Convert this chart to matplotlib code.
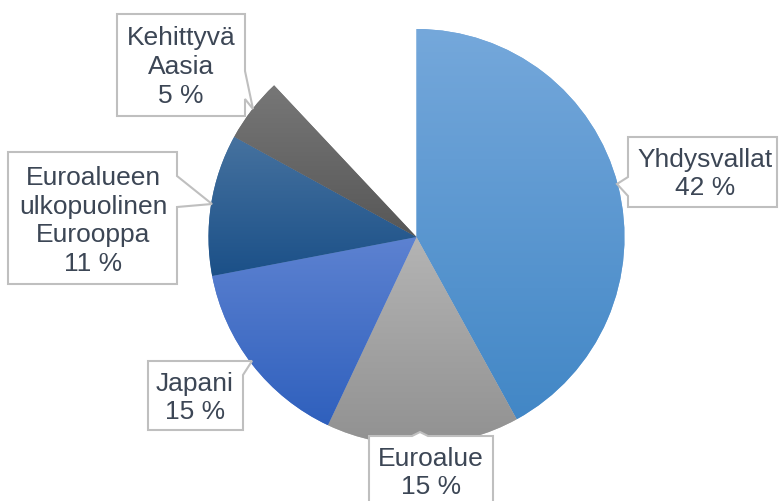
import numpy as np
import matplotlib
matplotlib.use("Agg")
import matplotlib.pyplot as plt
from matplotlib.colors import to_rgb
from matplotlib.patches import Polygon

# Osuudet (%), loput 12 % jää tyhjäksi
labels = ["Yhdysvallat", "Euroalue", "Japani",
          "Euroalueen\nulkopuolinen\nEurooppa", "Kehittyvä\nAasia"]
values = [42, 15, 15, 11, 5]
gap = 100 - sum(values)

# gradient colours (top, bottom) per slice
grad_top = ["#75a8db", "#b4b4b4", "#5d82d1", "#46729f", "#777777"]
grad_bot = ["#4287c6", "#919191", "#2f60bd", "#1b5088", "#575757"]

W, H = 779, 502
TEXT = "#3c4655"
EDGE = "#bfbfbf"

plt.rcParams["font.family"] = ["Liberation Sans", "DejaVu Sans"]

fig = plt.figure(figsize=(W / 100, H / 100), dpi=100)
ax = fig.add_axes([0, 0, 1, 1])


def P(x, y):
    # pixel coords (y down) -> data coords
    return (x, H - y)


wedges, _ = ax.pie(values + [gap], startangle=90, counterclock=False,
                   center=P(416.5, 238), radius=208,
                   colors=grad_top + ["white"],
                   wedgeprops=dict(linewidth=0))
wedges[-1].set_visible(False)

for w, c0, c1 in zip(wedges[:-1], grad_top, grad_bot):
    verts = w.get_path().vertices
    x0, x1 = verts[:, 0].min(), verts[:, 0].max()
    y0, y1 = verts[:, 1].min(), verts[:, 1].max()
    t = np.linspace(0, 1, 256)[:, None]
    img = (1 - t) * np.array(to_rgb(c0)) + t * np.array(to_rgb(c1))
    im = ax.imshow(img[:, None, :], extent=(x0, x1, y0, y1), origin="upper",
                   aspect="auto", interpolation="bilinear", zorder=2)
    im.set_clip_path(w)

# callout boxes (pixel outline), text centre
callouts = [
    ([(628, 138), (777, 138), (777, 208), (628, 208), (628, 197),
      (617, 185), (628, 178)], (705, 174)),
    ([(369, 437), (412, 437), (420, 433), (428, 437), (493, 437),
      (493, 512), (369, 512)], (431, 473)),
    ([(148, 362), (240, 362), (252, 362), (243, 376), (243, 431),
      (148, 431)], (195, 398)),
    ([(8, 153), (177, 153), (177, 177), (212, 205), (177, 208),
      (177, 285), (8, 285)], (93, 221)),
    ([(117, 15), (245, 15), (245, 72), (253, 110), (245, 100),
      (245, 117), (117, 117)], (181, 67)),
]

for lab, v, (outline, (tx, ty)) in zip(labels, values, callouts):
    ax.add_patch(Polygon([P(x, y) for x, y in outline], closed=True,
                         facecolor="white", edgecolor=EDGE, linewidth=1.5,
                         zorder=3))
    ax.text(*P(tx, ty), f"{lab}\n{v} %", ha="center", va="center",
            fontsize=19, color=TEXT, linespacing=1.25, zorder=4)

ax.set_xlim(0, W)
ax.set_ylim(0, H)
ax.set_aspect("equal")
ax.axis("off")

fig.savefig("out.png", dpi=100)
